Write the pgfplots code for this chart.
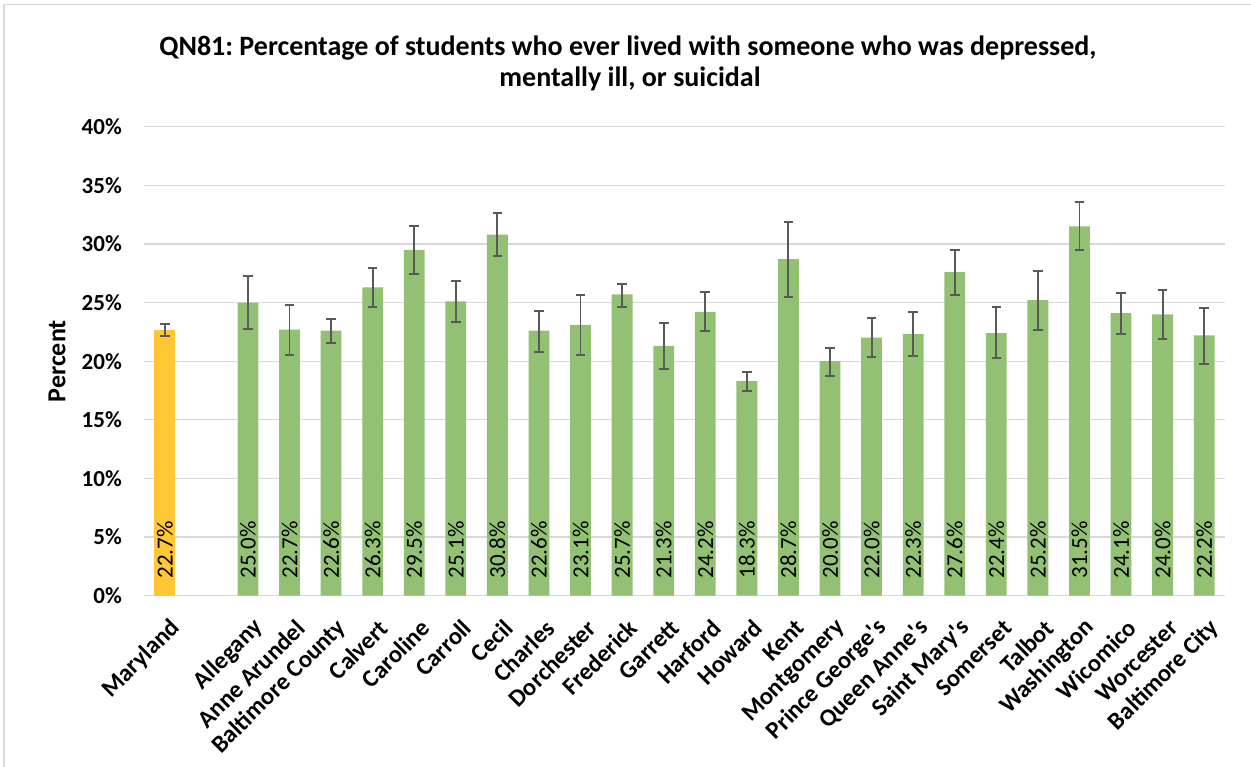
\documentclass[border=0pt]{standalone}
\usepackage{pgfplots}
\pgfplotsset{compat=1.18}
\usepackage{pgfplotstable}
\usepackage{fontspec}
\setmainfont{Carlito}
\frenchspacing
\definecolor{barg}{HTML}{92C174}
\definecolor{bary}{HTML}{FFC735}
\definecolor{errc}{HTML}{595959}
\definecolor{gridc}{HTML}{D9D9D9}

\pgfplotstableread{
x y ep em
0 22.7 0.44 0.53
}\mdtable

\pgfplotstableread{
x y ep em
2 25.0 2.26 2.26
3 22.7 2.06 2.17
4 22.6 1.00 1.08
5 26.3 1.65 1.65
6 29.5 2.06 2.07
7 25.1 1.77 1.73
8 30.8 1.87 1.80
9 22.6 1.71 1.82
10 23.1 2.57 2.57
11 25.7 0.91 1.05
12 21.3 1.93 2.00
13 24.2 1.70 1.63
14 18.3 0.78 0.84
15 28.7 3.17 3.20
16 20.0 1.12 1.26
17 22.0 1.71 1.64
18 22.3 1.89 1.89
19 27.6 1.88 1.93
20 22.4 2.22 2.16
21 25.2 2.49 2.57
22 31.5 2.08 2.05
23 24.1 1.74 1.78
24 24.0 2.07 2.08
25 22.2 2.36 2.47
}\cotable

\begin{document}
\begin{tikzpicture}[x=1pt,y=1pt]
\useasboundingbox (0,0) rectangle (1251,767);
\draw[gridc, line width=1.2pt] (4,0) -- (4,762.5) -- (1251,762.5);
\node[font=\bfseries\fontsize{28}{28}\selectfont] at (628,719) {QN81: Percentage of students who ever lived with someone who was depressed,};
\node[font=\bfseries\fontsize{28}{28}\selectfont] at (630,688) {mentally ill, or suicidal};
\begin{axis}[
  at={(144pt,171.3pt)}, anchor=south west,
  scale only axis, width=1081pt, height=469pt,
  xmin=-0.5, xmax=25.5, ymin=0, ymax=40,
  /pgf/number format/assume math mode=true,
  axis line style={draw=none},
  major tick length=0pt,
  ytick={0,5,...,40},
  yticklabel={\pgfmathprintnumber{\tick}\%},
  yticklabel style={font=\bfseries\fontsize{23}{23}\selectfont, anchor=east, inner sep=0pt, xshift=-22pt},
  ymajorgrids, grid style={gridc, line width=1.3pt},
  xtick={0,2,3,...,25},
  xticklabels={Maryland,Allegany,Anne Arundel,Baltimore County,Calvert,Caroline,Carroll,Cecil,Charles,Dorchester,Frederick,Garrett,Harford,Howard,Kent,Montgomery,Prince George\textquotesingle s,Queen Anne\textquotesingle s,Saint Mary\textquotesingle s,Somerset,Talbot,Washington,Wicomico,Worcester,Baltimore City},
  xticklabel style={font=\bfseries\fontsize{24.5}{24.5}\selectfont, rotate=45, anchor=east, inner sep=0pt, yshift=-28pt, xshift=-12pt},
  ylabel={Percent},
  ylabel style={font=\bfseries\fontsize{26}{26}\selectfont, at={(axis description cs:-0.0805,0.5)}, anchor=center},
  nodes near coords={\pgfmathprintnumber[fixed,fixed zerofill,precision=1]{\pgfplotspointmeta}\%},
  point meta=y,
  visualization depends on=y \as \rawy,
  every node near coord/.append style={shift={(axis direction cs:0,-\rawy)}, rotate=90, anchor=west, inner xsep=17pt, inner ysep=0pt, font=\fontsize{23}{23}\selectfont, text=black},
]
\addplot[ybar, bar width=20.8pt, bar shift=0pt, fill=bary, draw=none,
  error bars/.cd, y dir=both, y explicit,
  error bar style={errc, line width=1.9pt},
  error mark options={errc, line width=1.9pt, mark size=4.8pt, rotate=90}]
  table[x=x, y=y, y error plus=ep, y error minus=em] {\mdtable};
\addplot[ybar, bar width=20.8pt, bar shift=0pt, fill=barg, draw=none,
  error bars/.cd, y dir=both, y explicit,
  error bar style={errc, line width=1.9pt},
  error mark options={errc, line width=1.9pt, mark size=4.8pt, rotate=90}]
  table[x=x, y=y, y error plus=ep, y error minus=em] {\cotable};
\end{axis}
\end{tikzpicture}
\end{document}
